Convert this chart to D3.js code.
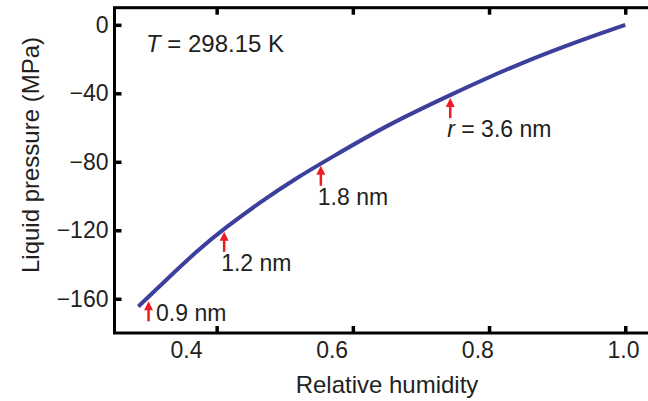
<!DOCTYPE html>
<html>
<head>
<meta charset="utf-8">
<script src="https://cdn.jsdelivr.net/npm/d3@7"></script>
<style>
    body { margin: 0; background: #fff; }
    svg text { font-family: "Liberation Sans", Arial, sans-serif; fill: #231f20; }
</style>
</head>
<body>
<div id="chart"></div>
<script>
// Curve
const humidity = [0.285, 0.322, 0.371, 0.412, 0.468, 0.517, 0.566, 0.650, 0.743, 0.845, 0.943, 1.0];
const pressure = [-164.5, -150.5, -132.0, -118.7, -102.4, -89.5, -78.0, -58.6, -40.9, -22.4, -7.8, 0];

// Pore radius markers
const markerHumidity = [0.300, 0.411, 0.553, 0.743];
const markerPressure = [-161.5, -120.9, -82.3, -42.8];
const markerLabels = ["0.9 nm", "1.2 nm", "1.8 nm", "3.6 nm"];

const xTicks = [0.4, 0.6, 0.8, 1.0];
const yTicks = [0, -40, -80, -120, -160];

const width = 648, height = 401;

const svg = d3.select("#chart").append("svg")
    .attr("width", width)
    .attr("height", height);

const x = d3.scaleLinear().domain([0.25, 1.05]).range([114.5, 659.3]);
const y = d3.scaleLinear().domain([-180, 10]).range([333, 7.7]);
// tick labels in the original sit on their own spacing
const xLabel = d3.scaleLinear().domain([0.4, 1.0]).range([186, 623]);

// ticks (inward, top and bottom)
svg.append("g")
    .attr("transform", `translate(0,${y(-180)})`)
    .call(d3.axisBottom(x).tickValues(xTicks).tickSize(-7).tickFormat(""))
    .call(g => g.select(".domain").remove());

svg.append("g")
    .attr("transform", `translate(0,${y(10)})`)
    .call(d3.axisTop(x).tickValues(xTicks).tickSize(-7).tickFormat(""))
    .call(g => g.select(".domain").remove());

svg.append("g")
    .attr("transform", `translate(${x(0.25)},0)`)
    .call(d3.axisLeft(y).tickValues(yTicks).tickSize(-7).tickPadding(6)
        .tickFormat(d => d === 0 ? "0" : "\u2212" + Math.abs(d)))
    .call(g => g.select(".domain").remove())
    .call(g => g.selectAll("text").attr("font-size", 23).style("font-family", null));

svg.selectAll(".tick line")
    .attr("stroke", "#000")
    .attr("stroke-width", 3.5);

// x tick labels
svg.append("g")
    .attr("transform", `translate(0,${y(-180)})`)
    .call(d3.axisBottom(xLabel).tickValues(xTicks).tickSize(0).tickPadding(9)
        .tickFormat(d3.format(".1f")))
    .call(g => g.select(".domain").remove())
    .call(g => g.selectAll("text").attr("font-size", 23).style("font-family", null));

// frame
svg.append("rect")
    .attr("x", x(0.25))
    .attr("y", y(10))
    .attr("width", x(1.05) - x(0.25))
    .attr("height", y(-180) - y(10))
    .attr("fill", "none")
    .attr("stroke", "#000")
    .attr("stroke-width", 3);

// curve
const points = humidity.map((h, i) => ({ rh: h, p: pressure[i] }));
const line = d3.line()
    .x(d => x(d.rh))
    .y(d => y(d.p))
    .curve(d3.curveBasis);

svg.append("path")
    .datum(points)
    .attr("fill", "none")
    .attr("stroke", "#3c3f9b")
    .attr("stroke-width", 4)
    .attr("d", line);

// arrows
const red = "#ed1c24";
markerHumidity.forEach((h, i) => {
    const ax = x(h), ay = y(markerPressure[i]);
    svg.append("line")
        .attr("x1", ax).attr("x2", ax)
        .attr("y1", ay + 6).attr("y2", ay + 20)
        .attr("stroke", red)
        .attr("stroke-width", 2.5);
    svg.append("path")
        .attr("d", `M${ax},${ay} L${ax - 4.5},${ay + 9} L${ax + 4.5},${ay + 9} Z`)
        .attr("fill", red);

    const t = svg.append("text").attr("font-size", 23);
    if (i === 0) {
        t.attr("x", ax + 7.5).attr("y", ay + 20);
    } else {
        t.attr("x", ax - 3).attr("y", ay + 39);
    }
    if (i === markerLabels.length - 1) {
        t.append("tspan").attr("font-style", "italic").text("r");
        t.append("tspan").text(" = " + markerLabels[i]);
    } else {
        t.text(markerLabels[i]);
    }
});

// temperature note
const note = svg.append("text")
    .attr("x", 146)
    .attr("y", 51.5)
    .attr("font-size", 24);
note.append("tspan").attr("font-style", "italic").text("T");
note.append("tspan").text(" = 298.15 K");

// axis titles
svg.append("text")
    .attr("x", 387)
    .attr("y", 393)
    .attr("text-anchor", "middle")
    .attr("font-size", 24)
    .text("Relative humidity");

svg.append("text")
    .attr("transform", "translate(39,155) rotate(-90)")
    .attr("text-anchor", "middle")
    .attr("font-size", 24)
    .text("Liquid pressure (MPa)");
</script>
</body>
</html>
